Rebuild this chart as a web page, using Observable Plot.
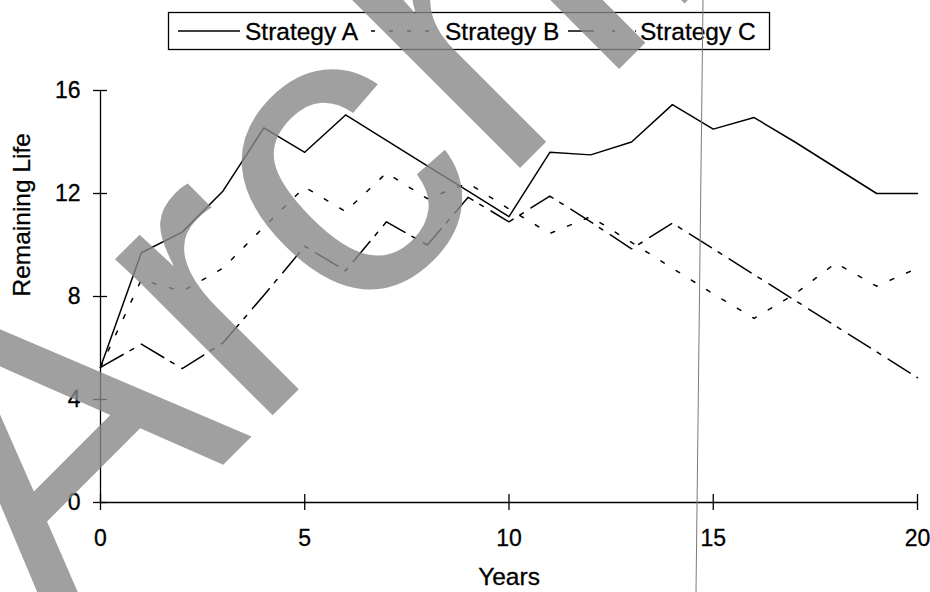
<!DOCTYPE html>
<html><head><meta charset="utf-8">
<script src="https://cdn.jsdelivr.net/npm/d3@7"></script>
<script src="https://cdn.jsdelivr.net/npm/@observablehq/plot@0.6"></script>
<style>
body{margin:0;background:#fff;}
#wrap{position:relative;width:930px;height:592px;overflow:hidden;font-family:"Liberation Sans",Arial,sans-serif;background:#fff;}
#wrap svg{display:block;}
#overlay{position:absolute;left:0;top:0;pointer-events:none;}
</style></head><body><div id="wrap"></div>
<script>
const years  = [0,1,2,3,4,5,6,7,8,9,10,11,12,13,14,15,16,17,18,19,20];
const stratA = [5.25,9.7,10.5,12.1,14.55,13.6,15.05,14.06,13.07,12.09,11.1,13.6,13.5,14.0,15.45,14.5,14.95,14.0,13.0,12.0,12.0];
const stratB = [5.25,8.65,8.2,9.1,10.7,12.25,11.3,12.8,11.8,12.4,11.4,10.45,11.1,10.1,9.1,8.1,7.15,8.1,9.3,8.4,9.1];
const stratC = [5.25,6.15,5.2,6.2,8.05,9.95,9.0,10.9,10.0,11.85,10.9,11.9,10.9,9.85,10.85,9.85,8.85,7.85,6.85,5.85,4.85];
const seriesNames = ["Strategy A","Strategy B","Strategy C"];
const xTicks = [0,5,10,15,20];
const yTicks = [0,4,8,12,16];
const xLabel = "Years";
const yLabel = "Remaining Life";
const watermark = "Archive";

const seriesValues = [stratA, stratB, stratC];
const dashes = [null, "4,14", "26,8,4,9"];
const tables = seriesValues.map((vals, i) => vals.map((v, j) => ({series: seriesNames[i], year: years[j], life: v})));

const font = "'Liberation Sans', Arial, Helvetica, sans-serif";
const wrap = document.getElementById("wrap");

// Legend (above the plot)
const legend = d3.create("svg").attr("width", 930).attr("height", 60);
legend.append("rect").attr("x", 168.5).attr("y", 12.5).attr("width", 601).attr("height", 37)
  .attr("fill", "none").attr("stroke", "#000").attr("stroke-width", 1.3);
const legItems = [
  {x1: 178, x2: 240, tx: 245, dash: null},
  {x1: 371, x2: 441, tx: 445, dash: "4,14"},
  {x1: 568, x2: 636, tx: 640, dash: "26,18,3,20"}
];
seriesNames.forEach((s, i) => {
  const it = legItems[i];
  legend.append("line").attr("x1", it.x1).attr("x2", it.x2).attr("y1", 31).attr("y2", 31)
    .attr("stroke", "#000").attr("stroke-width", 1.3)
    .attr("stroke-dasharray", it.dash);
  legend.append("text").attr("x", it.tx).attr("y", 40).text(s)
    .attr("font-family", font).attr("font-size", 24.5).attr("fill", "#000")
    .attr("stroke", "#000").attr("stroke-width", 0.3);
});
wrap.appendChild(legend.node());

const lineMarks = tables.map((t, i) => Plot.line(t, {
  x: "year", y: "life", stroke: "#000", strokeWidth: 1.5,
  strokeDasharray: dashes[i] ?? undefined
}));

const plot = Plot.plot({
  width: 930, height: 532,
  marginLeft: 100, marginRight: 13, marginTop: 30, marginBottom: 90,
  style: {fontFamily: font, fontSize: "23px", color: "#000", background: "#fff", overflow: "visible"},
  x: {domain: [0, 20], label: null},
  y: {domain: [0, 16], label: null},
  marks: [
    Plot.ruleY([0], {stroke: "#000", strokeWidth: 1.3}),
    Plot.ruleX([0], {stroke: "#000", strokeWidth: 1.3}),
    Plot.axisX(xTicks, {tickSize: 8, tickPadding: 19, strokeWidth: 1.3, fontSize: 23, label: null}),
    Plot.axisX(xTicks, {tickSize: 8, dy: -8, strokeWidth: 1.3, tickFormat: () => "", label: null}),
    Plot.axisY(yTicks, {tickSize: 7, tickPadding: 13, strokeWidth: 1.3, fontSize: 23, label: null}),
    Plot.axisY(yTicks, {tickSize: 7, dx: 7, strokeWidth: 1.3, tickFormat: () => "", label: null}),
    ...lineMarks,
    Plot.text([xLabel], {frameAnchor: "bottom", dy: 75, fontSize: 24.5, lineAnchor: "middle", fill: "#000"}),
    Plot.text([yLabel], {frameAnchor: "left", dx: -78, rotate: -90, fontSize: 24.5, lineAnchor: "middle", fill: "#000"})
  ]
});
d3.select(plot).selectAll("text").attr("stroke", "#000").attr("stroke-width", 0.3);
wrap.appendChild(plot);

// Overlay: scan artefact line and diagonal watermark
const ov = d3.create("svg").attr("id", "overlay").attr("width", 930).attr("height", 592);
ov.append("line").attr("x1", 703).attr("y1", 0).attr("x2", 696).attr("y2", 592)
  .attr("stroke", "#7a7a7a").attr("stroke-width", 1);
ov.append("text").text(watermark)
  .attr("transform", "translate(54,634) rotate(-45)")
  .attr("font-family", font).attr("font-size", 420)
  .attr("fill", "#898989").attr("opacity", 0.8);
wrap.appendChild(ov.node());
</script></body></html>
